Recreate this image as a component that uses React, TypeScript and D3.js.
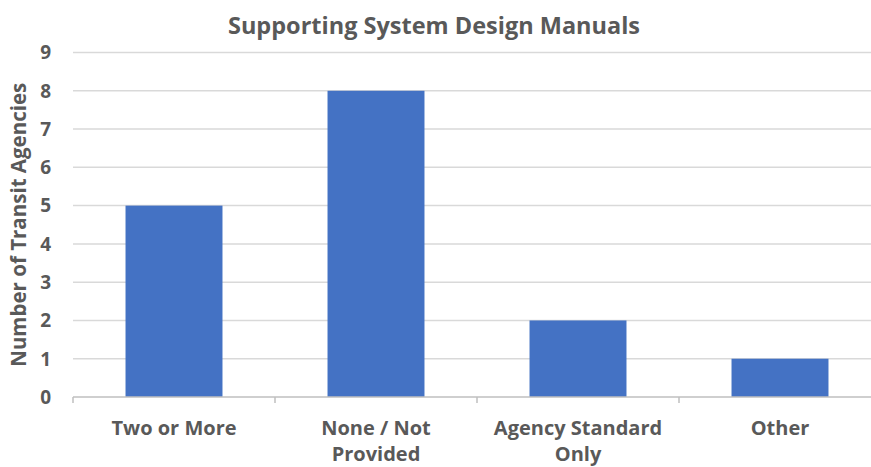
import React from "react";
import * as d3 from "d3";

const categories: string[][] = [["Two or More"], ["None / Not", "Provided"], ["Agency Standard", "Only"], ["Other"]];
const values: number[] = [5, 8, 2, 1];
const yTicks: number[] = [0, 1, 2, 3, 4, 5, 6, 7, 8, 9];
const title = "Supporting System Design Manuals";
const yTitle = "Number of Transit Agencies";

const W = 871;
const H = 467;
const FONT = "'Open Sans', 'Noto Sans', sans-serif";
const TEXT = "#595959";

export default function App() {
  const x = d3
    .scaleBand<number>()
    .domain(values.map((_, i) => i))
    .range([73, 881])
    .paddingInner(0.52)
    .paddingOuter(0.26);
  const band = d3.scaleBand<number>().domain(values.map((_, i) => i)).range([73, 881]);
  const y = d3.scaleLinear().domain([0, 9]).range([397, 52.5]);

  return (
    <svg width={W} height={H} style={{ display: "block", position: "absolute", left: 0, top: 0 }} fontFamily={FONT}>
      <rect width={W} height={H} fill="#fff" />
      <text x={434} y={34} textAnchor="middle" fontSize={23.5} fontWeight={700} fill={TEXT}>
        {title}
      </text>
      {yTicks.map((t) => (
        <g key={t}>
          {t > 0 && <line x1={73} x2={881} y1={y(t)} y2={y(t)} stroke="#d9d9d9" strokeWidth={1.5} />}
          <text x={51} y={y(t)} dy="0.36em" textAnchor="end" fontSize={19} fontWeight={700} fill={TEXT}>
            {t}
          </text>
        </g>
      ))}
      {values.map((v, i) => (
        <rect key={i} x={x(i)} y={y(v)} width={x.bandwidth()} height={y(0) - y(v)} fill="#4472C4" />
      ))}
      <line x1={73} x2={881} y1={y(0)} y2={y(0)} stroke="#bfbfbf" strokeWidth={1.5} />
      {band.domain().map((i) => (
        <line key={i} x1={band(i)!} x2={band(i)!} y1={y(0)} y2={y(0) + 6} stroke="#bfbfbf" strokeWidth={1.5} />
      ))}
      {categories.map((lines, i) => (
        <text key={i} textAnchor="middle" fontSize={20} fontWeight={700} fill={TEXT}>
          {lines.map((l, j) => (
            <tspan key={j} x={band(i)! + band.bandwidth() / 2} y={435 + j * 26}>
              {l}
            </tspan>
          ))}
        </text>
      ))}
      <text
        transform={`translate(26, ${(y(0) + y(9)) / 2}) rotate(-90)`}
        textAnchor="middle"
        fontSize={20.5}
        fontWeight={700}
        fill={TEXT}
      >
        {yTitle}
      </text>
    </svg>
  );
}
